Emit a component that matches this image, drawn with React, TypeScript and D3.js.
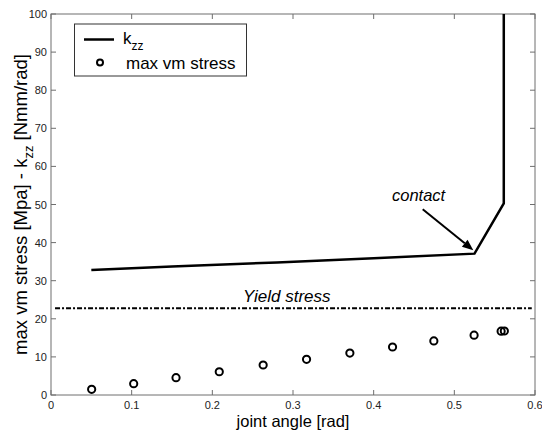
import React from "react";
import * as d3 from "d3";

const kzzX = [0.05, 0.15, 0.28, 0.4, 0.525, 0.5613, 0.5613];
const kzzY = [32.8, 33.7, 34.8, 35.9, 37.1, 50.3, 100];
const stressX = [0.0504, 0.1025, 0.155, 0.2086, 0.263, 0.3168, 0.3705, 0.4234, 0.4746, 0.5245, 0.558, 0.562];
const stressY = [1.5, 2.97, 4.55, 6.1, 7.87, 9.36, 11.0, 12.6, 14.2, 15.7, 16.75, 16.8];
const yieldX = [0.005, 0.596];
const yieldY = [22.75, 22.75];
const xTicks = [0, 0.1, 0.2, 0.3, 0.4, 0.5, 0.6];
const yTicks = [0, 10, 20, 30, 40, 50, 60, 70, 80, 90, 100];

const W = 542, H = 432;
const L = 51, R = 535, T = 14, B = 395;
const font = "'Liberation Sans', Arial, sans-serif";

export default function App() {
  const x = d3.scaleLinear().domain([0, 0.6]).range([L, R]);
  const y = d3.scaleLinear().domain([0, 100]).range([B, T]);
  const line = d3.line<[number, number]>().x(d => x(d[0])).y(d => y(d[1]));
  const kzz = kzzX.map((v, i) => [v, kzzY[i]] as [number, number]);
  const yieldPts = yieldX.map((v, i) => [v, yieldY[i]] as [number, number]);
  const axisC = "#6e6e6e";
  const ax1 = 422.7, ay1 = 209.3;
  const ax2 = x(0.5235), ay2 = y(38.0);
  const ang = Math.atan2(ay2 - ay1, ax2 - ax1);
  const hl = 11, hw = 4.5;
  const bx = ax2 - hl * Math.cos(ang), by = ay2 - hl * Math.sin(ang);
  const head = `M${ax2},${ay2} L${bx + hw * Math.sin(ang)},${by - hw * Math.cos(ang)} L${bx - hw * Math.sin(ang)},${by + hw * Math.cos(ang)} Z`;
  return (
    <svg width={W} height={H} style={{ position: "absolute", left: 0, top: 0, background: "#fff" }} fontFamily={font}>
      <rect x={0} y={0} width={W} height={H} fill="#fff" />
      <defs>
        <clipPath id="pc"><rect x={L} y={T} width={R - L} height={B - T} /></clipPath>
      </defs>
      <rect x={L} y={T} width={R - L} height={B - T} fill="none" stroke={axisC} strokeWidth={1} />
      {xTicks.map(t => (
        <g key={"x" + t}>
          <line x1={x(t)} x2={x(t)} y1={B} y2={B - 5} stroke={axisC} />
          <line x1={x(t)} x2={x(t)} y1={T} y2={T + 5} stroke={axisC} />
          <text x={x(t)} y={B + 14} textAnchor="middle" fontSize={11} fill="#222">{t}</text>
        </g>
      ))}
      {yTicks.map(t => (
        <g key={"y" + t}>
          <line x1={L} x2={L + 5} y1={y(t)} y2={y(t)} stroke={axisC} />
          <line x1={R} x2={R - 5} y1={y(t)} y2={y(t)} stroke={axisC} />
          <text x={L - 4} y={y(t) + 4} textAnchor="end" fontSize={11} fill="#222">{t}</text>
        </g>
      ))}
      <g clipPath="url(#pc)">
        <path d={line(kzz) || ""} fill="none" stroke="#000" strokeWidth={2.5} />
        <path d={line(yieldPts) || ""} fill="none" stroke="#000" strokeWidth={2} strokeDasharray="5,2,2,2" />
      </g>
      {stressX.map((v, i) => (
        <circle key={i} cx={x(v)} cy={y(stressY[i])} r={3.6} fill="none" stroke="#000" strokeWidth={2} />
      ))}
      <text x={243} y={302} fontSize={17} fontStyle="italic" fill="#000">Yield stress</text>
      <text x={392} y={201} fontSize={16.5} fontStyle="italic" fill="#000">contact</text>
      <line x1={ax1} y1={ay1} x2={bx} y2={by} stroke="#000" strokeWidth={2} />
      <path d={head} fill="#000" />
      <rect x={74.5} y={24} width={172} height={52} fill="#fff" stroke="#333" strokeWidth={1} />
      <line x1={84} x2={114} y1={39.5} y2={39.5} stroke="#000" strokeWidth={2.5} />
      <text x={123} y={44} fontSize={17} fill="#000">k<tspan fontSize={12} dy={6}>zz</tspan></text>
      <circle cx={100} cy={62.5} r={3} fill="none" stroke="#000" strokeWidth={2} />
      <text x={126} y={69} fontSize={17} fill="#000">max vm stress</text>
      <text x={(L + R) / 2} y={427} textAnchor="middle" fontSize={16.5} fill="#000">joint angle [rad]</text>
      <text transform={`translate(27,${(T + B) / 2}) rotate(-90)`} textAnchor="middle" fontSize={18.5} fill="#000">
        max vm stress [Mpa] - k<tspan fontSize={13} dy={6}>zz</tspan><tspan dy={-6}> [Nmm/rad]</tspan>
      </text>
    </svg>
  );
}
